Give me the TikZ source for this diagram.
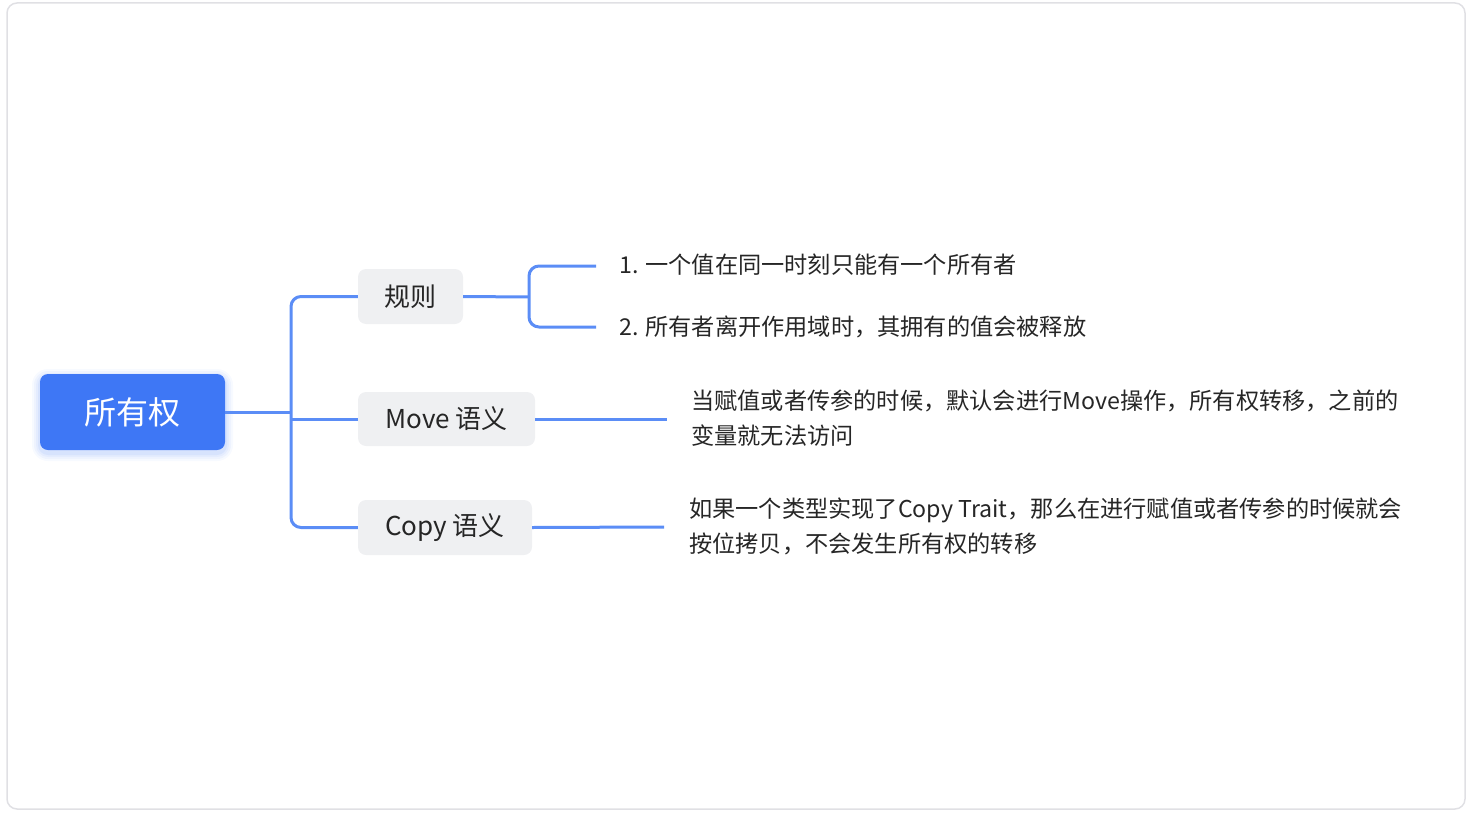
\documentclass[tikz,border=0pt]{standalone}
\usepackage{fontspec}
\setmainfont{Noto Sans CJK SC}
\definecolor{rootblue}{HTML}{3E77F5}
\definecolor{linkblue}{HTML}{5B8DF6}
\definecolor{boxgray}{HTML}{EFF0F2}
\definecolor{txt}{HTML}{262626}
\definecolor{frame}{HTML}{E0E0E4}
\begin{document}
\begin{tikzpicture}[x=1pt,y=-1pt,
  rootbox/.style={fill=rootblue,rounded corners=8pt,text=white,inner sep=0pt,
    font=\fontsize{32}{36}\selectfont},
  subbox/.style={fill=boxgray,rounded corners=8pt,text=txt,inner sep=0pt,
    font=\fontsize{26}{30}\selectfont},
  leaf/.style={text=txt,inner sep=0pt,anchor=west,align=left,
    font=\fontsize{23.2}{35}\selectfont},
  link/.style={draw=linkblue,line width=3pt,rounded corners=10pt}]
\useasboundingbox (0,0) rectangle (1472,816);
\draw[frame,line width=1.5pt,rounded corners=10pt] (7,3) rectangle (1465,809);
% root soft shadow
\foreach \d/\o in {8/0.04,6/0.05,4/0.06,2/0.08}{
  \fill[rootblue,opacity=\o,rounded corners=8pt+\d pt] (40-\d,377-\d) rectangle (225+\d,453+\d);
}
\node[rootbox,minimum width=185pt,minimum height=76pt] (root) at (132.5,412) {所有权};
\node[subbox,minimum width=105pt,minimum height=55pt] (rule) at (410.5,296.5) {规则};
\node[subbox,minimum width=177pt,minimum height=54pt] (move) at (446.5,419) {Move 语义};
\node[subbox,minimum width=174pt,minimum height=55pt] (copy) at (445,527.5) {Copy 语义};
\coordinate (spine) at (291,412);
\coordinate (rs) at (529,297);
\coordinate (e1) at (596,266);
\coordinate (e2) at (596,327);
\coordinate (em) at (667,419);
\coordinate (ec) at (664,527);
\node[leaf] (t1) at (619,265) {1. 一个值在同一时刻只能有一个所有者};
\node[leaf] (t2) at (619,327) {2. 所有者离开作用域时，其拥有的值会被释放};
\node[leaf] (t3) at (691,418.5) {当赋值或者传参的时候，默认会进行Move操作，所有权转移，之前的\\变量就无法访问};
\node[leaf] (t4) at (689,526.5) {如果一个类型实现了Copy Trait，那么在进行赋值或者传参的时候就会\\按位拷贝，不会发生所有权的转移};
\draw[link] (root.east) -- (spine);
\draw[link] (rule.west) -| (spine) |- (copy.west);
\draw[link] (move.west) -- (spine |- move.west);
\draw[link] (rule.east) -- (rs);
\draw[link] (e1) -| (rs) |- (e2);
\draw[link] (move.east) -- (em);
\draw[link] (copy.east) -- (ec);
\end{tikzpicture}
\end{document}
